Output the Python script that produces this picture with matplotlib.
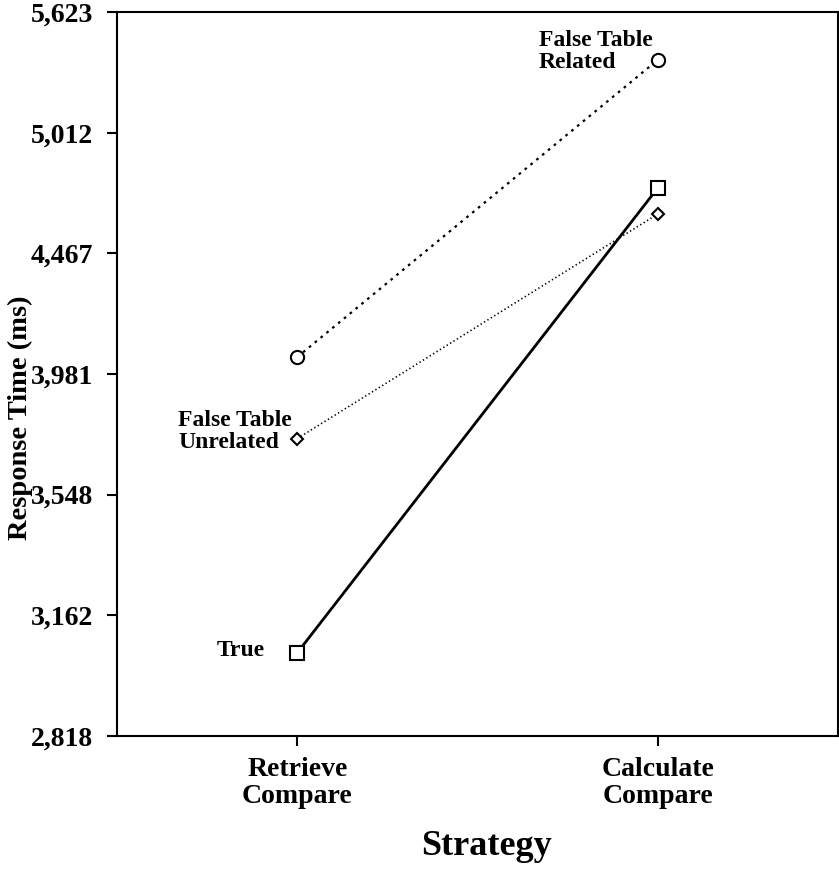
import numpy as np
import matplotlib.pyplot as plt
from matplotlib.ticker import FixedLocator, NullLocator

# -----------------------
# Data
# -----------------------
strategies = ["Retrieve\nCompare", "Calculate\nCompare"]
false_related = [4046, 5373]
false_unrelated = [3743, 4638]
true_vals = [3051, 4755]
ytick_vals = [2818, 3162, 3548, 3981, 4467, 5012, 5623]

plt.rcParams["font.family"] = ["Liberation Serif", "DejaVu Serif"]
plt.rcParams["font.weight"] = "bold"

fig = plt.figure(figsize=(8.39, 8.72), dpi=100)
ax = fig.add_axes([0.1395, 0.156, 0.8594, 0.830])

x = np.arange(1, len(strategies) + 1)

ax.plot(x, false_related, color="black", linestyle=(0, (1.2, 2.2)), linewidth=1.6,
        marker="o", markersize=9.5, markerfacecolor="white", markeredgewidth=1.5, zorder=3)
ax.plot(x, false_unrelated, color="black", linestyle=(0, (0.8, 1.6)), linewidth=1.2,
        marker="D", markersize=6.5, markerfacecolor="white", markeredgewidth=1.5, zorder=3)
ax.plot(x, true_vals, color="black", linestyle="-", linewidth=2,
        marker="s", markersize=9.5, markerfacecolor="white", markeredgewidth=1.5, zorder=3)

ax.set_yscale("log")
ax.set_ylim(ytick_vals[0], ytick_vals[-1])
ax.yaxis.set_major_locator(FixedLocator(ytick_vals))
ax.yaxis.set_minor_locator(NullLocator())
ax.set_yticklabels([f"{v:,}" for v in ytick_vals], fontsize=20, fontweight="bold")
ax.set_xlim(0.5, 2.5)
ax.set_xticks(x)
ax.set_xticklabels(strategies, fontsize=20, fontweight="bold")
for lab in ax.get_xticklabels():
    lab.set_linespacing(1.1)

ax.tick_params(axis="both", direction="out", length=7, width=1.5)
ax.tick_params(axis="y", pad=10)
ax.tick_params(axis="x", pad=8)
for sp in ax.spines.values():
    sp.set_linewidth(1.5)

ax.set_ylabel("Response Time (ms)", fontsize=20.5, fontweight="bold")
ax.yaxis.set_label_coords(-0.117, 0.44)
ax.set_xlabel("Strategy", fontsize=26, fontweight="bold")
ax.xaxis.set_label_coords(0.513, -0.130)

# series labels
ax.annotate("False Table\nRelated", xy=(x[1], false_related[1]), xytext=(-119, 8),
            textcoords="offset pixels", ha="left", va="center", fontsize=17,
            fontweight="bold", linespacing=1.05)
ax.annotate("False Table\nUnrelated", xy=(x[0], false_unrelated[0]), xytext=(-119, 7),
            textcoords="offset pixels", ha="left", va="center", fontsize=17,
            fontweight="bold", linespacing=1.05)
ax.annotate("True", xy=(x[0], true_vals[0]), xytext=(-32, 2),
            textcoords="offset pixels", ha="right", va="center", fontsize=17,
            fontweight="bold")

fig.savefig("out.png", dpi=100)
